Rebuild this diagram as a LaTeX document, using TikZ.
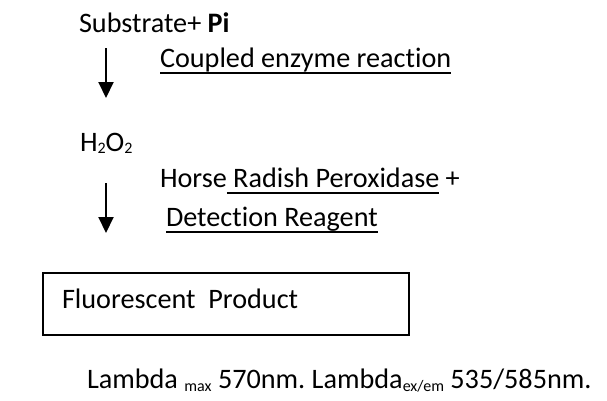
\documentclass[tikz,border=0pt]{standalone}
\usepackage{fontspec}
\setmainfont{Carlito}[Ligatures=NoCommon]
\usepackage{tikz}
\usetikzlibrary{positioning,arrows.meta}
\frenchspacing

% underline at a fixed depth below the baseline
\newcommand{\ulbar}[1]{\setbox0=\hbox{#1}\rlap{\rule[-6.5pt]{\wd0}{1.8pt}}\box0\relax}
% small lowered index
\newcommand{\lsub}[1]{\raisebox{-2.5pt}{\fontsize{16}{19}\selectfont #1}}

\begin{document}
\begin{tikzpicture}[x=1pt, y=-1pt,
    lbl/.style={inner sep=0pt, outer sep=0pt, anchor=base west, font=\fontsize{28.2}{34}\selectfont},
    flowarrow/.style={-{Triangle[width=15pt, length=16pt]}, line width=2pt},
    prodbox/.style={draw, line width=1.5pt, inner sep=0pt, anchor=north west, minimum width=366pt, minimum height=62pt}]

  \useasboundingbox (0,0) rectangle (607,400);

  % Define nodes
  \node[lbl] (sub) at (79,32) {Substrate+ \textbf{Pi}};
  \node[lbl, below=35pt of sub.base west, anchor=base west, xshift=81pt] (cer) {\ulbar{Coupled enzyme reaction}};

  \node[lbl, below=119pt of sub.base west, anchor=base west, xshift=1pt] (hoo) {H\lsub{2}O\lsub{2}};
  \node[lbl, below=36pt of hoo.base west, anchor=base west, xshift=80pt] (hrp) {Horse\ulbar{ Radish Peroxidase} +};
  \node[lbl, below=39pt of hrp.base west, anchor=base west, xshift=6pt] (det) {\ulbar{Detection Reagent}};

  \node[prodbox] (prod) at (42,272) {};
  \node[lbl, below=36pt of prod.north west, anchor=base west, xshift=20pt] (fp) {Fluorescent\ \ Product};

  \node[lbl, below=53pt of prod.south west, anchor=base west, xshift=45pt] (lam) {Lambda \lsub{max} 570nm. Lambda\lsub{ex/em} 535/585nm.};

  % arrows
  \coordinate (a1top) at (106,48);
  \coordinate (a1bot) at (106,98);
  \coordinate (a2top) at (106,183);
  \coordinate (a2bot) at (106,233);

  \draw[flowarrow] (a1top) -- (a1bot);
  \draw[flowarrow] (a2top) -- (a2bot);

\end{tikzpicture}
\end{document}
